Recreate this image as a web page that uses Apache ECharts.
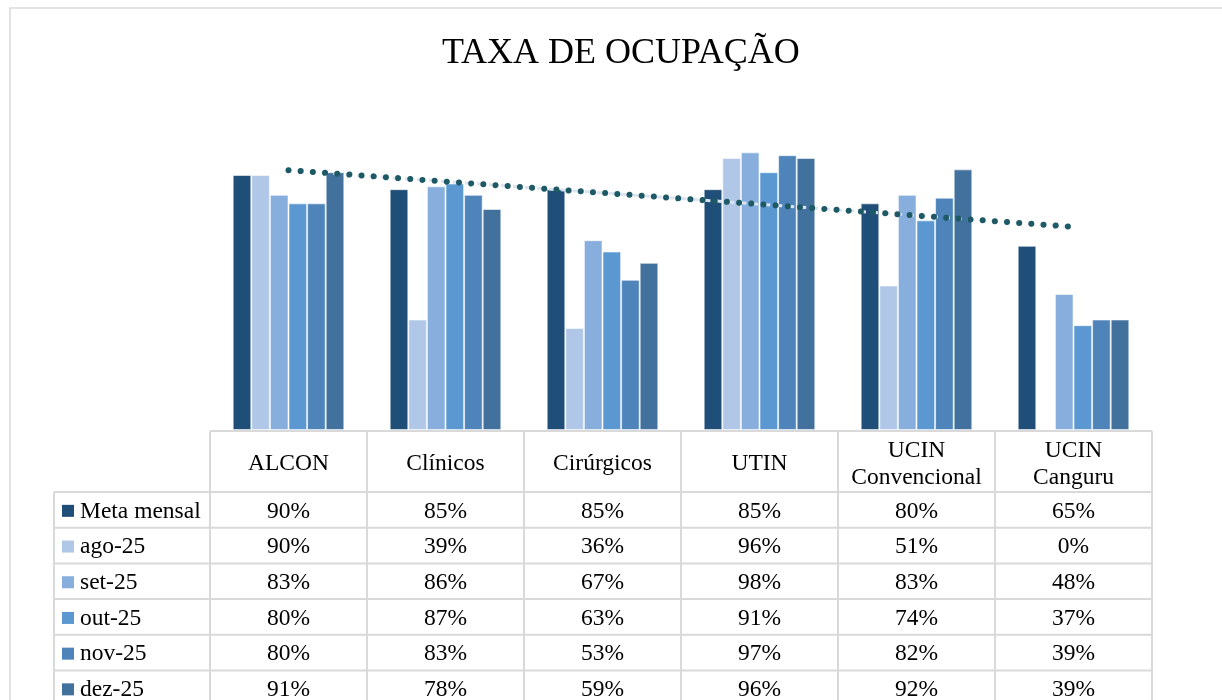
<!DOCTYPE html>
<html>
<head>
<meta charset="utf-8">
<title>Taxa de ocupação</title>
<script src="https://cdn.jsdelivr.net/npm/echarts@6/dist/echarts.min.js"></script>
<style>
  html, body { margin: 0; padding: 0; background: #fff; }
  #main { width: 1222px; height: 700px; }
</style>
</head>
<body>
<div id="main"></div>
<script>
// categorias e séries (valores em %)
const categorias = ['ALCON', 'Clínicos', 'Cirúrgicos', 'UTIN', 'UCIN\nConvencional', 'UCIN\nCanguru'];
const nomesSeries = ['Meta mensal', 'ago-25', 'set-25', 'out-25', 'nov-25', 'dez-25'];
const metaMensal = [90, 85, 85, 85, 80, 65];
const ago25 = [90, 39, 36, 96, 51, 0];
const set25 = [83, 86, 67, 98, 83, 48];
const out25 = [80, 87, 63, 91, 74, 37];
const nov25 = [80, 83, 53, 97, 82, 39];
const dez25 = [91, 78, 59, 96, 92, 39];
// linha de tendência da meta
const tendencia = [91.7, 87.7, 83.7, 79.7, 75.7, 71.7];

const valores = [metaMensal, ago25, set25, out25, nov25, dez25];
const cores = ['#1f4e79', '#b1c7e7', '#87aedc', '#5b98d1', '#4f84ba', '#41719c'];

const fonte = "'Liberation Serif', 'DejaVu Serif', serif";

// layout da tabela
const gLeft = 210, gRight = 1152, baseY = 430;
const colW = (gRight - gLeft) / categorias.length;
const legLeft = 54;
const headTop = 431, headBottom = 492, rowH = 35.7;

const chart = echarts.init(document.getElementById('main'), null, { renderer: 'canvas' });

const graficos = [];
// moldura
graficos.push({
  type: 'rect', shape: { x: 10, y: 8, width: 1240, height: 720 },
  style: { fill: 'none', stroke: '#d9d9d9', lineWidth: 1.5 }, silent: true
});
const linha = (x1, y1, x2, y2) => graficos.push({
  type: 'line', shape: { x1, y1, x2, y2 },
  style: { stroke: '#d9d9d9', lineWidth: 2 }, silent: true, z: 10
});
const ultimaY = headBottom + rowH * nomesSeries.length;
linha(gLeft, headTop, gRight, headTop);
for (let r = 0; r <= nomesSeries.length; r++) {
  linha(legLeft, headBottom + r * rowH, gRight, headBottom + r * rowH);
}
linha(legLeft, headBottom, legLeft, ultimaY);
for (let c = 0; c <= categorias.length; c++) {
  linha(gLeft + c * colW, headTop, gLeft + c * colW, ultimaY);
}
const estiloTexto = (texto, align) => ({
  text: texto, fontFamily: fonte, fontSize: 23.5, fill: '#000',
  align: align, verticalAlign: 'middle', lineHeight: 27
});
// cabeçalho
categorias.forEach((cat, c) => {
  graficos.push({
    type: 'text', x: gLeft + (c + 0.5) * colW, y: (headTop + headBottom) / 2 + 2.5,
    style: estiloTexto(cat, 'center'), silent: true, z: 11
  });
});
// linhas de dados com legenda
nomesSeries.forEach((nome, r) => {
  const cy = headBottom + (r + 0.5) * rowH + 1.5;
  graficos.push({
    type: 'rect', shape: { x: 62, y: cy - 6.5, width: 12, height: 12 },
    style: { fill: cores[r] }, silent: true, z: 11
  });
  graficos.push({
    type: 'text', x: 80, y: cy, style: estiloTexto(nome, 'left'), silent: true, z: 11
  });
  valores[r].forEach((v, c) => {
    graficos.push({
      type: 'text', x: gLeft + (c + 0.5) * colW, y: cy,
      style: estiloTexto(v + '%', 'center'), silent: true, z: 11
    });
  });
});

const series = nomesSeries.map((nome, i) => ({
  name: nome,
  type: 'bar',
  data: valores[i],
  barWidth: 18.6,
  barGap: '0%',
  itemStyle: { color: cores[i], borderColor: 'rgba(255,255,255,0.55)', borderWidth: 1 },
  emphasis: { disabled: true }
}));
// linha clara por baixo dos pontos, como no original
series.push({
  name: 'Linear (Meta mensal) fundo',
  type: 'line',
  data: tendencia,
  symbol: 'none',
  z: 4,
  lineStyle: { color: '#dbe4f0', width: 3, type: [6, 6], dashOffset: 3 },
  emphasis: { disabled: true }
});
series.push({
  name: 'Linear (Meta mensal)',
  type: 'line',
  data: tendencia,
  symbol: 'none',
  z: 5,
  lineStyle: { color: '#1e5a66', width: 6, type: [0.01, 12.2], cap: 'round' },
  emphasis: { disabled: true }
});

chart.setOption({
  animation: false,
  backgroundColor: '#fff',
  title: {
    text: 'TAXA DE OCUPAÇÃO',
    left: 437,
    top: 31,
    textStyle: { fontFamily: fonte, fontSize: 36, fontWeight: 'normal', color: '#000' }
  },
  grid: { left: gLeft, right: 1222 - gRight, top: baseY - 283.3, bottom: 700 - baseY, containLabel: false },
  xAxis: {
    type: 'category',
    data: categorias,
    axisLine: { show: false },
    axisTick: { show: false },
    axisLabel: { show: false },
    splitLine: { show: false }
  },
  yAxis: {
    type: 'value',
    min: 0,
    max: 100,
    show: false,
    splitLine: { show: false }
  },
  series: series,
  graphic: graficos
});
</script>
</body>
</html>
